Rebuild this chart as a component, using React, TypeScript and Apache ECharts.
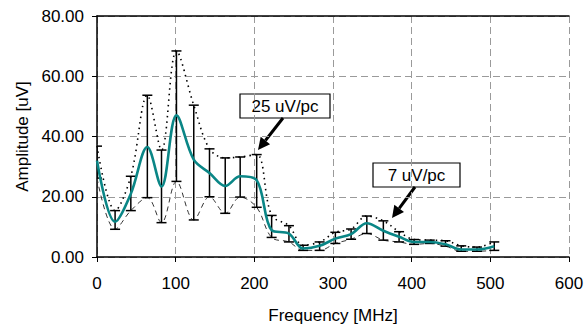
import React, { useEffect, useRef } from "react";
import * as echarts from "echarts";

const freqs = [0, 23, 43, 64, 82, 101, 123, 143, 163, 182, 203, 222, 244, 262, 283, 303, 323, 343, 364, 384, 403, 423, 443, 463, 483, 505];
const meanVals = [32, 11.7, 21, 36.5, 23.4, 47, 32.3, 27.9, 23.6, 26.8, 25.5, 8.9, 7.8, 2.8, 3.7, 6.1, 7.6, 11.2, 8.7, 6.7, 5, 5, 4.2, 2.5, 2.5, 3.6];
const maxVals = [36.8, 15.4, 26.8, 53.7, 35.5, 68.4, 50.4, 35.9, 32.9, 33.2, 34, 13.8, 10.4, 3.9, 5, 8.2, 9.3, 13.6, 12, 8.4, 5.8, 5.6, 5.4, 3.7, 3.3, 5];
const minVals = [26.2, 9.2, 15.4, 19.7, 11.4, 25.1, 12.3, 20, 14.5, 19.9, 16.5, 6.5, 5, 2.2, 2.2, 4.5, 5.9, 7.8, 5.6, 5, 4.2, 4.5, 3.6, 1.9, 1.9, 2.2];
const annotations = ["25 uV/pc", "7 uV/pc"];

const FONT = "Liberation Sans, Arial, sans-serif";

export default function App() {
  const ref = useRef<HTMLDivElement>(null);
  useEffect(() => {
    if (!ref.current) return;
    const chart = echarts.init(ref.current, null, { renderer: "svg" });
    const pair = (arr: number[]) => freqs.map((f, i) => [f, arr[i]]);
    const errData = freqs.map((f, i) => [f, minVals[i], maxVals[i]]);
    const gridStyle = { type: [7, 4] as any, color: "#9a9a9a", width: 1 };
    chart.setOption({
      animation: false,
      backgroundColor: "#ffffff",
      grid: { left: 97, top: 16, width: 472, height: 241, containLabel: false, outerBoundsMode: "none" },
      xAxis: [
        {
          type: "value",
          min: 0,
          max: 600,
          interval: 100,
          name: "Frequency [MHz]",
          nameLocation: "middle",
          nameGap: 50,
          nameTextStyle: { fontFamily: FONT, fontSize: 17, color: "#000" },
          axisLine: { show: true, onZero: false, lineStyle: { color: "#000", width: 1.5 } },
          axisTick: { show: true, length: 5, lineStyle: { color: "#000" } },
          axisLabel: { fontFamily: FONT, fontSize: 17, color: "#000", margin: 18 },
          splitLine: { show: true, lineStyle: gridStyle },
        },
        {
          type: "value",
          position: "top",
          min: 0,
          max: 600,
          interval: 100,
          axisLine: { show: true, onZero: false, lineStyle: { color: "#000", width: 1.5 } },
          axisTick: { show: false },
          axisLabel: { show: false },
          splitLine: { show: false },
        },
      ],
      yAxis: {
        type: "value",
        min: 0,
        max: 80,
        interval: 20,
        name: "Amplitude [uV]",
        nameLocation: "middle",
        nameGap: 66,
        nameTextStyle: { fontFamily: FONT, fontSize: 17, color: "#000" },
        axisLine: { show: true, lineStyle: { color: "#000", width: 1.5 } },
        axisTick: { show: true, length: 5, lineStyle: { color: "#000" } },
        axisLabel: {
          fontFamily: FONT,
          fontSize: 17,
          color: "#000",
          margin: 13,
          formatter: (v: number) => v.toFixed(2),
        },
        splitLine: { show: true, lineStyle: gridStyle },
      },
      series: [
        {
          type: "line",
          name: "max",
          data: pair(maxVals),
          smooth: 0.35,
          symbol: "none",
          lineStyle: { color: "#000", width: 1.6, type: [1.5, 4] as any },
          z: 2,
        },
        {
          type: "line",
          name: "min",
          data: pair(minVals),
          smooth: 0.35,
          symbol: "none",
          lineStyle: { color: "#333", width: 1, type: [5, 4] as any },
          z: 2,
        },
        {
          type: "custom",
          name: "range",
          clip: true,
          data: errData,
          encode: { x: 0, y: [1, 2] },
          renderItem: (params: any, api: any) => {
            const x = api.value(0);
            const lo = api.coord([x, api.value(1)]);
            const hi = api.coord([x, api.value(2)]);
            const hw = 5;
            const style = { stroke: "#000", lineWidth: 1.5 };
            return {
              type: "group",
              children: [
                { type: "line", shape: { x1: lo[0], y1: lo[1], x2: hi[0], y2: hi[1] }, style },
                { type: "line", shape: { x1: lo[0] - hw, y1: lo[1], x2: lo[0] + hw, y2: lo[1] }, style },
                { type: "line", shape: { x1: hi[0] - hw, y1: hi[1], x2: hi[0] + hw, y2: hi[1] }, style },
              ],
            };
          },
          z: 3,
        },
        {
          type: "line",
          name: "mean",
          data: pair(meanVals),
          smooth: 0.35,
          symbol: "none",
          lineStyle: { color: "#0a8686", width: 2.6 },
          z: 4,
        },
      ],
      graphic: [
        {
          type: "group",
          z: 10,
          children: [
            { type: "rect", shape: { x: 240, y: 94, width: 90, height: 24 }, style: { fill: "#fff", stroke: "#000", lineWidth: 1.2 } },
            { type: "text", x: 285, y: 106.5, style: { text: annotations[0], fontFamily: FONT, fontSize: 17, fill: "#000", textAlign: "center", textVerticalAlign: "middle" } },
            { type: "line", shape: { x1: 283, y1: 118, x2: 265.4, y2: 140.5 }, style: { stroke: "#000", lineWidth: 3 } },
            { type: "polygon", shape: { points: [[258, 150], [270.1, 144.2], [260.7, 136.8]] }, style: { fill: "#000" } },
            { type: "rect", shape: { x: 373, y: 163, width: 87, height: 24 }, style: { fill: "#fff", stroke: "#000", lineWidth: 1.2 } },
            { type: "text", x: 416.5, y: 175.5, style: { text: annotations[1], fontFamily: FONT, fontSize: 17, fill: "#000", textAlign: "center", textVerticalAlign: "middle" } },
            { type: "line", shape: { x1: 415, y1: 187, x2: 399.2, y2: 208.4 }, style: { stroke: "#000", lineWidth: 3 } },
            { type: "polygon", shape: { points: [[392, 218], [404, 212], [394.3, 204.8]] }, style: { fill: "#000" } },
          ],
        },
      ],
    });
    return () => chart.dispose();
  }, []);
  return (
    <div
      ref={ref}
      style={{ position: "absolute", left: 0, top: 0, width: 587, height: 324, background: "#fff" }}
    />
  );
}
